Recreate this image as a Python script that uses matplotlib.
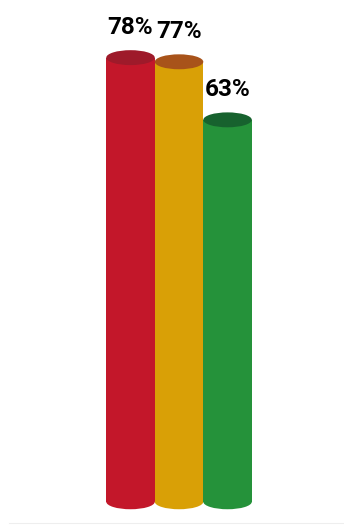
import matplotlib
matplotlib.use("Agg")
import matplotlib.pyplot as plt
from matplotlib.patches import Ellipse

labels = ["78%", "77%", "63%"]
values = [78, 77, 63]
body_colors = ["#C3172A", "#D9A006", "#25923A"]
top_colors = ["#9E1A2A", "#A8531A", "#17622E"]

BASE = -29.1        # bottom of the cylinders
CAP_H = 3.6         # ellipse height in data units

fig = plt.figure(figsize=(3.44, 5.25), dpi=100)
fig.patch.set_facecolor("white")
ax = fig.add_axes([0, 0, 1, 1])
ax.axis("off")
ax.set_xlim(-2.69, 4.40)
ax.set_ylim(-34.7, 91.9)

for i, (v, lab, bc, tc) in enumerate(zip(values, labels, body_colors, top_colors)):
    ax.bar(i, v - BASE, bottom=BASE, width=1.0, color=bc, linewidth=0, zorder=2 + i)
    ax.add_patch(Ellipse((i, BASE), 1.0, CAP_H, facecolor=bc, edgecolor="none", zorder=2 + i))
    ax.add_patch(Ellipse((i, v), 1.0, CAP_H, facecolor=tc, edgecolor="none", zorder=2.5 + i))
    ax.annotate(lab, (i, v + CAP_H / 2), xytext=(0, 8), textcoords="offset points",
                ha="center", va="bottom", fontsize=17.5, fontweight="bold",
                color="black", family=["Roboto", "DejaVu Sans"], zorder=10)

# faint baseline at the very bottom
ax.plot([-2.5, 4.4], [-34.2, -34.2], color="#eeeeee", lw=0.8, zorder=1)

fig.savefig("out.png", dpi=100, facecolor="white")
